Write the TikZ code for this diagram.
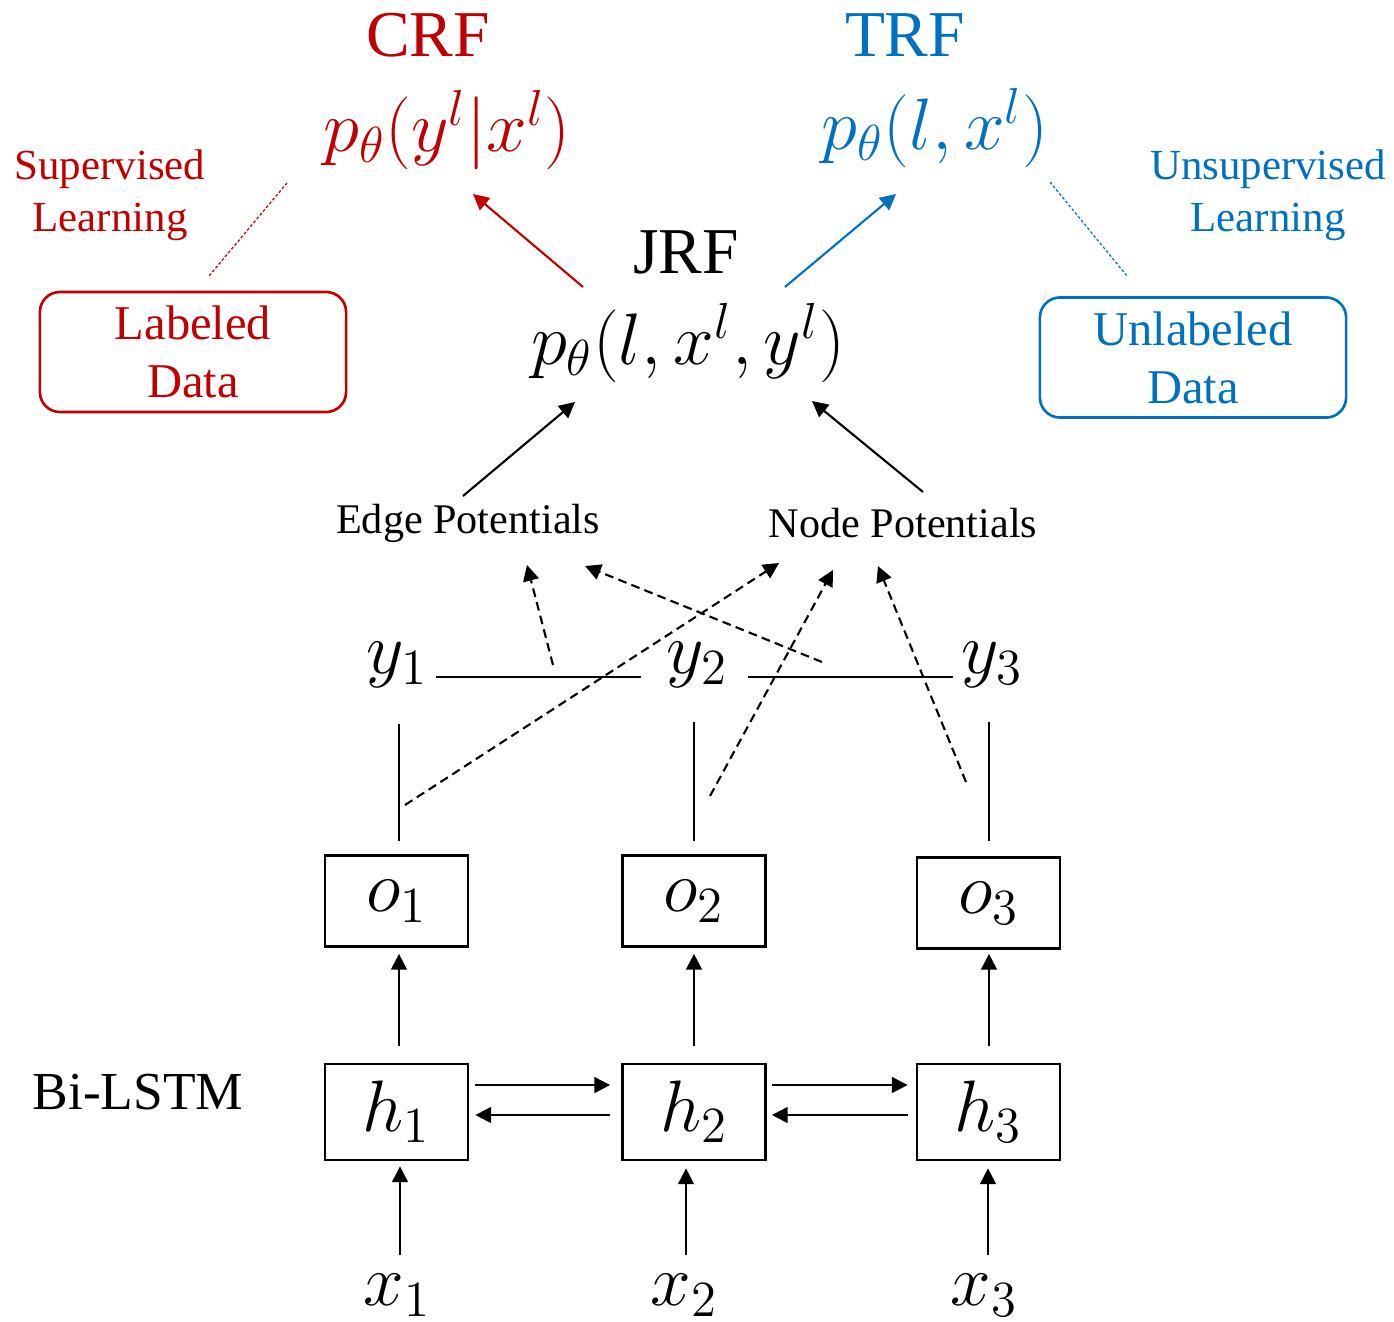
\documentclass[tikz,border=0pt]{standalone}
\usepackage{fontspec}
\setmainfont{Liberation Serif}
\usetikzlibrary{arrows.meta,calc}
\definecolor{crfred}{HTML}{C00000}
\definecolor{trfblue}{HTML}{0070C0}

\begin{document}
\begin{tikzpicture}[x=0.01cm,y=-0.01cm,
  title/.style={font=\fontsize{18.6}{22}\selectfont},
  formula/.style={font=\fontsize{20.5}{24}\selectfont},
  side/.style={font=\fontsize{12.2}{14.8}\selectfont, align=center},
  databox/.style={draw, rounded corners=0.2cm, line width=0.75pt, minimum width=3.06cm,
    minimum height=1.2cm, align=center, font=\fontsize{13.8}{16.5}\selectfont},
  potential/.style={font=\fontsize{12}{14}\selectfont},
  var/.style={font=\fontsize{20.5}{24}\selectfont},
  cell/.style={draw, line width=0.75pt, minimum width=1.43cm, minimum height=0.91cm,
    inner sep=0pt, font=\fontsize{20.5}{24}\selectfont},
  arr/.style={-{Triangle[length=4.5pt,width=4.5pt]}, line width=0.6pt},
  dasharr/.style={arr, dash pattern=on 2.5pt off 1.5pt},
  link/.style={line width=0.6pt},
  guide/.style={line width=0.35pt, dash pattern=on 0.8pt off 0.6pt}
]
\useasboundingbox (0,0) rectangle (1394,1321);

% model titles and distributions
\node[title, text=crfred] (crf) at (428,35) {CRF};
\node[formula, text=crfred] (pcrf) at (447,130) {$p_\theta(y^l|x^l)$};
\node[title, text=trfblue] (trf) at (905,35) {TRF};
\node[formula, text=trfblue] (ptrf) at (935,128) {$p_\theta(l,x^l)$};
\node[title] (jrf) at (686,252) {JRF};
\node[formula] (pjrf) at (688,343) {$p_\theta(l,x^l,y^l)$};

% learning settings and data
\node[side, text=crfred] (sup) at (110,195) {Supervised\\Learning};
\node[side, text=trfblue] (unsup) at (1268,195) {Unsupervised\\Learning};
\node[databox, draw=crfred, text=crfred] (lab) at (193,352) {Labeled\\Data};
\node[databox, draw=trfblue, text=trfblue] (unlab) at (1193,357.5) {Unlabeled\\Data};

% potentials
\node[potential] (edge) at (468,523) {Edge Potentials};
\node[potential] (nodep) at (903,523) {Node Potentials};

% label chain
\node[var] (y1) at (397,665) {$y_1$};
\node[var] (y2) at (697,665) {$y_2$};
\node[var] (y3) at (992,665) {$y_3$};

% Bi-LSTM network
\node[cell] (o1) at (396.5,901) {$o_1$};
\node[cell] (o2) at (694,901) {$o_2$};
\node[cell] (o3) at (988.5,903) {$o_3$};
\node[cell, minimum height=0.96cm] (h1) at (396.5,1112) {$h_1$};
\node[cell, minimum height=0.96cm] (h2) at (694,1112) {$h_2$};
\node[cell, minimum height=0.96cm] (h3) at (988.5,1112) {$h_3$};
\node[font=\fontsize{15.2}{18}\selectfont] (bilstm) at (138,1092) {Bi-LSTM};
\node[var] (x1) at (397,1295) {$x_1$};
\node[var] (x2) at (684,1295) {$x_2$};
\node[var] (x3) at (984,1295) {$x_3$};

% connector end points
\coordinate (jrfL) at (583,287);
\coordinate (crfIn) at (473,194);
\coordinate (jrfR) at (785,287);
\coordinate (trfIn) at (896,194);
\coordinate (edgeOut) at (463,496);
\coordinate (jrfInL) at (575,402);
\coordinate (nodeOut) at (923,492);
\coordinate (jrfInR) at (812,401);
\coordinate (supA) at (287,183);
\coordinate (supB) at (209,276);
\coordinate (unsA) at (1050,182);
\coordinate (unsB) at (1127,276);
\coordinate (e12) at (553,665);
\coordinate (edgeInA) at (527,565);
\coordinate (e23) at (822,662);
\coordinate (edgeInB) at (585,566);
\coordinate (n1) at (405,805);
\coordinate (nodeInA) at (779,563);
\coordinate (n2) at (710,796);
\coordinate (nodeInB) at (833,570);
\coordinate (n3) at (966,782);
\coordinate (nodeInC) at (878,566);

% top level arrows
\draw[arr, crfred] (jrfL) -- (crfIn);
\draw[arr, trfblue] (jrfR) -- (trfIn);
\draw[arr] (edgeOut) -- (jrfInL);
\draw[arr] (nodeOut) -- (jrfInR);
\draw[guide, crfred] (supA) -- (supB);
\draw[guide, trfblue] (unsA) -- (unsB);

% potentials fed by the chain
\draw[dasharr] (e12) -- (edgeInA);
\draw[dasharr] (e23) -- (edgeInB);
\draw[dasharr] (n1) -- (nodeInA);
\draw[dasharr] (n2) -- (nodeInB);
\draw[dasharr] (n3) -- (nodeInC);

% chain edges
\draw[link] ($(y1)+(39,12)$) -- ($(y2)+(-56,12)$);
\draw[link] ($(y2)+(51,12)$) -- ($(y3)+(-39,12)$);
\draw[link] ($(o1.north)+(2.5,-13)$) -- ($(y1)+(2,59)$);
\draw[link] ($(o2.north)+(0,-13)$) -- ($(y2)+(-3,57)$);
\draw[link] ($(o3.north)+(0.5,-15)$) -- ($(y3)+(-3,57)$);

% hidden to output
\draw[arr] ($(h1.north)+(2.5,-17)$) -- ($(o1.south)+(2.5,6)$);
\draw[arr] ($(h2.north)+(0,-17)$) -- ($(o2.south)+(0,6)$);
\draw[arr] ($(h3.north)+(0.5,-17)$) -- ($(o3.south)+(0.5,4)$);

% recurrent links
\draw[arr] ($(h1.east)+(6,-27)$) -- ($(h2.west)+(-11,-27)$);
\draw[arr] ($(h2.west)+(-11,3)$) -- ($(h1.east)+(6,3)$);
\draw[arr] ($(h2.east)+(5,-27)$) -- ($(h3.west)+(-8,-27)$);
\draw[arr] ($(h3.west)+(-8,3)$) -- ($(h2.east)+(5,3)$);

% inputs
\draw[arr] ($(x1)+(3,-40)$) -- ($(h1.south)+(3.5,5)$);
\draw[arr] ($(x2)+(2,-40)$) -- ($(h2.south)+(-8,7)$);
\draw[arr] ($(x3)+(4,-40)$) -- ($(h3.south)+(-0.5,7)$);
\end{tikzpicture}
\end{document}
